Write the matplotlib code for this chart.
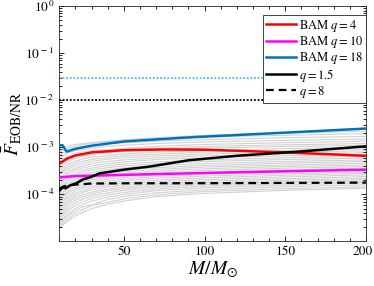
import numpy as np
import matplotlib
matplotlib.use("Agg")
import matplotlib.pyplot as plt
import matplotlib.transforms as mtransforms
from matplotlib.ticker import FixedLocator, FuncFormatter, LogLocator, NullFormatter

plt.rcParams['font.family'] = ['STIXGeneral', 'DejaVu Serif']
plt.rcParams['mathtext.fontset'] = 'stix'

# Mass grid (in M_sun) for the gray family of curves
M_gray = [10, 12, 15, 20, 25, 30, 40, 50, 70, 100, 150, 200]
# Gray curves, values in units of 1e-4
gray_curves = [
    [9.5, 10, 10.5, 11.5, 12, 12.5, 13.5, 14.5, 16, 18, 20, 22],
    [8, 8.5, 9.5, 10.5, 11.5, 12, 13, 13.5, 15, 16.5, 18, 19.5],
    [6.5, 7.5, 8.5, 9.5, 10.5, 11, 12, 12.5, 13.5, 14.5, 16, 17],
    [5.5, 6.5, 7.5, 8.5, 9, 9.5, 10.5, 11, 12, 13, 14, 15],
    [5, 5.5, 6.5, 7.5, 8, 8.5, 9, 9.5, 10.5, 11.5, 12.5, 13.5],
    [4, 4.8, 5.6, 6.5, 7.2, 7.7, 8.4, 8.9, 9.6, 10.4, 11.3, 12],
    [3.5, 4.2, 5, 5.9, 6.5, 7, 7.7, 8.2, 8.9, 9.6, 10.4, 11],
    [3, 3.6, 4.3, 5.1, 5.7, 6.1, 6.8, 7.2, 7.9, 8.6, 9.4, 10],
    [2.7, 3.2, 3.8, 4.6, 5.1, 5.5, 6.1, 6.6, 7.2, 7.9, 8.6, 9.2],
    [2.4, 2.9, 3.4, 4.1, 4.6, 5, 5.6, 6, 6.6, 7.2, 7.9, 8.4],
    [2.1, 2.5, 3, 3.6, 4.1, 4.5, 5, 5.4, 6, 6.6, 7.2, 7.7],
    [1.9, 2.2, 2.7, 3.3, 3.7, 4, 4.5, 4.9, 5.5, 6, 6.6, 7.1],
    [1.7, 2, 2.4, 2.9, 3.3, 3.6, 4.1, 4.4, 4.9, 5.4, 6, 6.5],
    [1.5, 1.8, 2.2, 2.6, 3, 3.3, 3.7, 4, 4.5, 5, 5.5, 5.9],
    [1.35, 1.6, 1.95, 2.35, 2.7, 2.95, 3.35, 3.65, 4.1, 4.5, 5, 5.4],
    [1.2, 1.45, 1.75, 2.1, 2.4, 2.65, 3, 3.3, 3.7, 4.1, 4.6, 5],
    [1.05, 1.3, 1.6, 1.95, 2.2, 2.45, 2.75, 3, 3.4, 3.8, 4.2, 4.6],
    [0.95, 1.15, 1.4, 1.75, 2, 2.2, 2.5, 2.75, 3.1, 3.5, 3.9, 4.2],
    [0.85, 1.05, 1.3, 1.6, 1.85, 2.05, 2.3, 2.5, 2.85, 3.2, 3.6, 3.9],
    [0.75, 0.92, 1.15, 1.45, 1.65, 1.85, 2.1, 2.3, 2.6, 2.9, 3.3, 3.6],
    [0.65, 0.82, 1.05, 1.3, 1.5, 1.68, 1.92, 2.1, 2.4, 2.7, 3, 3.3],
    [0.58, 0.72, 0.92, 1.18, 1.38, 1.52, 1.75, 1.92, 2.2, 2.45, 2.75, 3],
    [0.5, 0.64, 0.82, 1.05, 1.23, 1.38, 1.6, 1.75, 2, 2.25, 2.55, 2.8],
    [0.45, 0.56, 0.72, 0.95, 1.12, 1.25, 1.45, 1.6, 1.85, 2.05, 2.35, 2.6],
    [0.4, 0.5, 0.65, 0.85, 1, 1.12, 1.3, 1.45, 1.68, 1.9, 2.15, 2.4],
    [0.35, 0.44, 0.57, 0.75, 0.9, 1.02, 1.2, 1.33, 1.55, 1.75, 2, 2.2],
    [0.31, 0.39, 0.5, 0.66, 0.8, 0.92, 1.08, 1.22, 1.42, 1.62, 1.85, 2.05],
    [0.28, 0.34, 0.44, 0.58, 0.7, 0.82, 0.98, 1.1, 1.3, 1.5, 1.72, 1.9],
    [0.25, 0.3, 0.38, 0.5, 0.61, 0.72, 0.88, 1, 1.2, 1.38, 1.58, 1.75],
    [0.22, 0.27, 0.34, 0.45, 0.55, 0.6, 0.78, 0.9, 1.08, 1.25, 1.45, 1.6],
    [0.2, 0.24, 0.3, 0.4, 0.48, 0.58, 0.68, 0.8, 0.98, 1.15, 1.32, 1.45],
    [0.19, 0.22, 0.27, 0.35, 0.42, 0.5, 0.62, 0.72, 0.9, 1.05, 1.22, 1.35],
]

# Highlighted curves
M_q18 = [10, 12, 14.5, 20, 30, 50, 90, 150, 200]
F_q18 = [1.12e-3, 1.1e-3, 8.1e-4, 9.3e-4, 1.08e-3, 1.33e-3, 1.62e-3, 2.05e-3, 2.5e-3]

M_q4 = [10, 15, 20, 30, 50, 75, 100, 150, 200]
F_q4 = [4.5e-4, 5.8e-4, 6.7e-4, 7.8e-4, 8.7e-4, 9.0e-4, 8.9e-4, 7.8e-4, 6.6e-4]

M_q10 = [10, 20, 50, 100, 150, 200]
F_q10 = [2.3e-4, 2.45e-4, 2.6e-4, 2.85e-4, 3.1e-4, 3.35e-4]

M_q15 = [10, 12, 14, 16.6, 20, 25, 29, 35, 50, 66, 90, 120, 158, 200]
F_q15 = [1.2e-4, 1.4e-4, 1.35e-4, 1.55e-4, 1.7e-4, 2.1e-4, 2.3e-4, 2.8e-4, 3.35e-4,
         3.9e-4, 5.3e-4, 6.6e-4, 8.1e-4, 1.05e-3]

M_q8 = [10, 12, 15, 20, 30, 50, 100, 150, 200]
F_q8 = [1.3e-4, 1.45e-4, 1.55e-4, 1.62e-4, 1.7e-4, 1.72e-4, 1.73e-4, 1.75e-4, 1.78e-4]

thresh_cyan = 0.03
thresh_black = 0.01

legend_labels = ['BAM $q=4$', 'BAM $q=10$', 'BAM $q=18$', '$q=1.5$', '$q=8$']

fig = plt.figure(figsize=(3.74, 2.86), dpi=100)
ax = fig.add_axes([0.1586, 0.1556, 0.8200, 0.8234])

for g in gray_curves:
    ax.plot(M_gray, np.array(g) * 1e-4, color=(0.82, 0.82, 0.82), lw=0.8, zorder=1)

ax.axhline(thresh_cyan, color=(0.3, 0.75, 0.93), ls=(0, (1, 1)), lw=1.3, zorder=2)
ax.axhline(thresh_black, color='black', ls=(0, (1, 1)), lw=1.3, zorder=2)

h1, = ax.plot(M_q4, F_q4, color=(1, 0, 0), lw=1.8, zorder=3)
h2, = ax.plot(M_q10, F_q10, color=(1, 0, 1), lw=1.8, zorder=3)
h3, = ax.plot(M_q18, F_q18, color=(0, 0.447, 0.741), lw=1.8, zorder=3)
h4, = ax.plot(M_q15, F_q15, color='black', lw=1.8, zorder=4)
h5, = ax.plot(M_q8, F_q8, color='black', lw=1.6, ls=(0, (3.5, 2.2)), zorder=4)

ax.set_yscale('log')
ax.set_xlim(10, 200)
ax.set_ylim(1e-5, 1)

ax.xaxis.set_major_locator(FixedLocator([50, 100, 150, 200]))
ax.xaxis.set_minor_locator(FixedLocator(list(range(10, 201, 10))))
ax.yaxis.set_major_locator(FixedLocator([1e-4, 1e-3, 1e-2, 1e-1, 1]))
ax.yaxis.set_minor_locator(LogLocator(base=10, subs=np.arange(2, 10), numticks=20))
ax.yaxis.set_minor_formatter(NullFormatter())
ax.yaxis.set_major_formatter(FuncFormatter(lambda v, p: r'$10^{\,%d}$' % int(round(np.log10(v)))))

ax.tick_params(which='both', direction='in', top=True, right=True, labelsize=9.5, width=0.6)
ax.tick_params(which='major', length=3.5)
ax.tick_params(which='minor', length=2)
for s in ax.spines.values():
    s.set_linewidth(0.6)
    s.set_color('#262626')

ax.set_xlabel(r'$M/M_{\odot}$', fontsize=14, labelpad=1)
ax.set_ylabel(r'$\bar{F}_{\rm EOB/NR}$', fontsize=14, labelpad=0)

leg = ax.legend([h1, h2, h3, h4, h5], legend_labels, loc='upper right',
                bbox_to_anchor=(1.0, 0.963), fontsize=9, frameon=True, fancybox=False,
                edgecolor='#262626', framealpha=1, handlelength=2.4, handletextpad=0.2,
                labelspacing=0.02, borderpad=0.25, borderaxespad=0.0)
leg.get_frame().set_linewidth(0.6)

# keep the last x tick label inside the canvas
fig.canvas.draw()
last_lbl = ax.get_xticklabels()[-1]
last_lbl.set_transform(last_lbl.get_transform() +
                       mtransforms.ScaledTranslation(-3 / 100, 0, fig.dpi_scale_trans))

fig.savefig('out.png', dpi=100)
